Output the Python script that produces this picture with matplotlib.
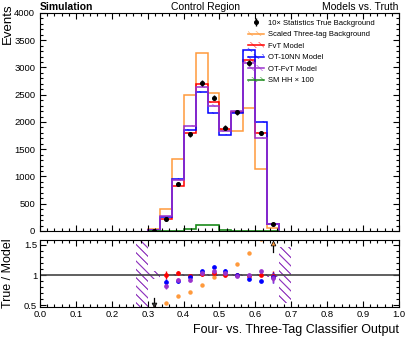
"""
Four- vs. three-tag classifier output in the control region:
true background compared with the background models, with a ratio panel.
"""

import numpy as np
import matplotlib

matplotlib.use("Agg")
import matplotlib.pyplot as plt
from matplotlib.lines import Line2D
from matplotlib.patches import Patch
from matplotlib.ticker import MultipleLocator

plt.rcParams["font.family"] = ["Liberation Sans", "DejaVu Sans"]
plt.rcParams["hatch.linewidth"] = 0.6

# ── Data ──────────────────────────────────────────────────────────────────────
bin_width = 1 / 30
first_bin = 9          # histogram content starts at 0.3
true_bkg = np.array([8, 221, 860, 1775, 2720, 2446, 1893, 2175, 3085, 1800, 123])
three_tag = np.array([30, 410, 1330, 2494, 3260, 2540, 1845, 1830, 2250, 1130, 61])
fvt = np.array([20, 220, 830, 1800, 2690, 2370, 1880, 2180, 3130, 1790, 125])
ot_10nn = np.array([22, 250, 950, 1845, 2550, 2160, 1770, 2160, 3320, 2000, 128])
ot_fvt = np.array([25, 270, 930, 1930, 2650, 2300, 1830, 2195, 3080, 1700, 130])
sm_hh = np.array([0, 3, 8, 35, 110, 110, 20, 8, 5, 3, 1])

# relative model uncertainty, one more bin on each side (0.267 .. 0.7)
band_first_bin = 8
model_unc = np.array([0.62, 0.07, 0.02, 0.015, 0.01, 0.01, 0.01,
                      0.01, 0.01, 0.01, 0.01, 0.035, 0.47])

ORANGE = "#ff9a3c"
RED = "#ff0000"
BLUE = "#0000ff"
PURPLE = "#9a32cd"
GREEN = "#1a8a1a"
HATCH = "\\\\\\\\"

n = len(true_bkg)
edges = (first_bin + np.arange(n + 1)) * bin_width
centers = 0.5 * (edges[:-1] + edges[1:])
band_edges = (band_first_bin + np.arange(len(model_unc) + 1)) * bin_width


def _step(vals):
    return np.append(vals, vals[-1])


models = [
    ("FvT Model", fvt, RED),
    ("OT-10NN Model", ot_10nn, BLUE),
    ("OT-FvT Model", ot_fvt, PURPLE),
]

fig = plt.figure(figsize=(4.11, 3.38), dpi=100)
ax = fig.add_axes([0.0973, 0.3166, 0.8735, 0.6450])
rax = fig.add_axes([0.0973, 0.0917, 0.8735, 0.1982])

# ── Main panel ───────────────────────────────────────────────────────────────
unc_main = model_unc[1:-1]
ax.stairs(three_tag, edges, color=ORANGE, lw=1.1)
for _, vals, col in models:
    ax.fill_between(edges, _step(vals * (1 - unc_main)), _step(vals * (1 + unc_main)),
                    step="post", facecolor="none", edgecolor=col, hatch=HATCH,
                    lw=0, alpha=0.6)
    ax.stairs(vals, edges, color=col, lw=1.1)
ax.stairs(sm_hh, edges, color=GREEN, lw=1.2)
data_h = ax.errorbar(centers, true_bkg, yerr=np.sqrt(true_bkg), fmt="o", ms=2.6,
                     color="k", elinewidth=1.0, capsize=0, zorder=5)

ax.set_xlim(0, 1)
ax.set_ylim(0, 4000)
ax.xaxis.set_major_locator(MultipleLocator(0.1))
ax.xaxis.set_minor_locator(MultipleLocator(0.02))
ax.yaxis.set_major_locator(MultipleLocator(500))
ax.yaxis.set_minor_locator(MultipleLocator(100))
ax.tick_params(which="both", direction="in", top=True, right=True,
               labelbottom=False, labelsize=6.8, width=0.8)
ax.tick_params(which="major", length=4.2)
ax.tick_params(which="minor", length=2.2)
ax.set_ylabel("Events", fontsize=9.5, loc="top")
ax.yaxis.set_label_coords(-0.073, 1.045)


def _hatch_handle(col):
    return (Patch(facecolor="none", edgecolor=col, hatch=HATCH, lw=0, alpha=0.6),
            Line2D([], [], color=col, lw=1.1))


handles = [data_h, _hatch_handle(ORANGE)] + [_hatch_handle(c) for _, _, c in models]
handles.append(_hatch_handle(GREEN))
labels = ["10× Statistics True Background", "Scaled Three-tag Background"]
labels += [name for name, _, _ in models] + ["SM HH × 100"]
ax.legend(handles, labels, loc="upper left", bbox_to_anchor=(0.572, 0.985),
          frameon=False, fontsize=5.5, handlelength=2.0, handletextpad=0.6,
          labelspacing=0.55, borderaxespad=0)

# ── Ratio panel ──────────────────────────────────────────────────────────────
for _, _, col in models:
    rax.fill_between(band_edges, _step(1 - model_unc), _step(1 + model_unc),
                     step="post", facecolor="none", edgecolor=col, hatch=HATCH,
                     lw=0, alpha=0.6)
rax.axhline(1, color="#444444", lw=1.2)

ratio_3b = true_bkg / three_tag
rax.plot(centers, ratio_3b, "o", ms=2.2, color=ORANGE, clip_on=True)
for _, vals, col in models:
    r = true_bkg / vals
    err = r * np.sqrt(0.5 / true_bkg + 0.5 / vals)
    rax.errorbar(centers, r, yerr=err, fmt="o", ms=2.4, color=col,
                 elinewidth=1.0, capsize=0)

ylo, yhi = 0.467, 1.583
# arrows for the three-tag ratio where it runs off the panel
for xc, r in zip(centers, ratio_3b):
    if r < ylo:
        rax.plot([xc, xc], [0.62, 0.5], color="k", lw=0.9)
        rax.plot(xc, 0.505, "v", ms=3.5, mfc="#333333", mec="k", mew=0.5)
    elif r > 1.8:
        rax.plot([xc, xc], [1.38, 1.53], color="k", lw=0.9)
        rax.plot(xc, 1.53, "^", ms=3.5, mfc=ORANGE, mec="k", mew=0.5)

rax.set_xlim(0, 1)
rax.set_ylim(ylo, yhi)
rax.xaxis.set_major_locator(MultipleLocator(0.1))
rax.xaxis.set_minor_locator(MultipleLocator(0.02))
rax.yaxis.set_major_locator(MultipleLocator(0.5))
rax.yaxis.set_minor_locator(MultipleLocator(0.1))
rax.yaxis.set_major_formatter(plt.FuncFormatter(lambda v, _: f"{v:g}"))
rax.tick_params(which="both", direction="in", top=True, right=True,
                labelsize=6.8, width=0.8, pad=2)
rax.tick_params(which="major", length=4.2)
rax.tick_params(which="minor", length=2.2)
rax.set_ylabel("True / Model", fontsize=9)
rax.yaxis.set_label_coords(-0.073, 0.5)
rax.set_xlabel("Four- vs. Three-Tag Classifier Output", fontsize=9, loc="right")
rax.xaxis.set_label_coords(1.0, -0.25)

# ── Header ───────────────────────────────────────────────────────────────────
fig.text(40 / 411, 0.970, "Simulation", fontsize=7.5, weight="bold", va="baseline")
fig.text(0.5, 0.970, "Control Region", fontsize=7.5, ha="center", va="baseline")
fig.text(398 / 411, 0.970, "Models vs. Truth", fontsize=7.5, ha="right", va="baseline")

fig.savefig("out.png", dpi=100)
plt.close(fig)
